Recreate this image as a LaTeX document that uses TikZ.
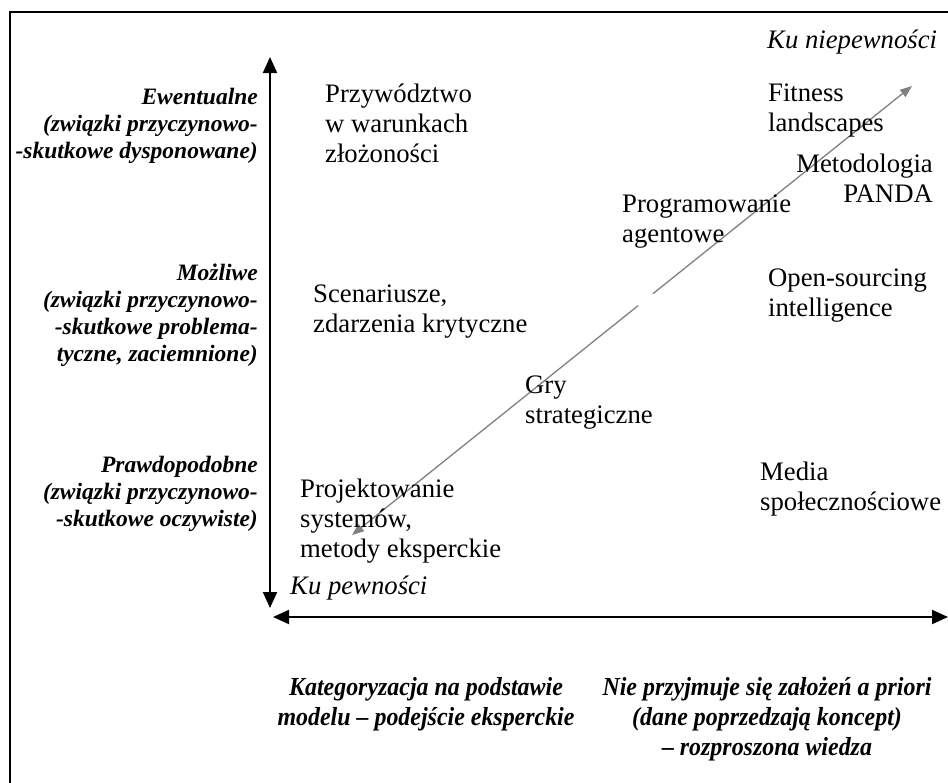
\documentclass[tikz,border=0pt]{standalone}
\usepackage{fontspec}
\setmainfont{Liberation Serif}
\newfontfamily\narrowfont[FakeStretch=0.92]{Liberation Serif}
\usetikzlibrary{arrows.meta,calc}

\tikzset{
  item/.style={inner sep=0pt, align=left, anchor=base west, font=\fontsize{26.7}{30}\selectfont},
  level/.style={inner sep=0pt, align=right, anchor=base east, font=\fontsize{23.5}{27}\selectfont\bfseries\itshape},
  basis/.style={inner sep=0pt, align=center, anchor=base, font=\narrowfont\fontsize{26}{30}\selectfont\bfseries\itshape},
  axis/.style={line width=2pt, {Triangle[length=16pt,width=14pt]}-{Triangle[length=16pt,width=14pt]}},
  diag/.style={line width=1.3pt, gray, -{Triangle[length=12pt,width=9pt]}}
}

\begin{document}
\begin{tikzpicture}[x=1pt,y=-1pt]
  \useasboundingbox (0,0) rectangle (948,782);
  %ramka
  \draw[line width=1.5pt] (10,800) -- (10,12) -- (970,12);
  %osie
  \coordinate (ytop) at (270,57);
  \coordinate (ybot) at (270,608);
  \coordinate (xleft) at (273,617);
  \coordinate (xright) at (948,617);
  \draw[axis] (ybot) -- (ytop);
  \draw[axis] (xleft) -- (xright);
  %przekatna
  \coordinate (lo) at (352,535);
  \coordinate (hi) at (912,86);
  \coordinate (gapA) at ($(lo)!0.511!(hi)$);
  \coordinate (gapB) at ($(lo)!0.5375!(hi)$);
  \draw[diag] (gapA) -- (lo);
  \draw[diag] (gapB) -- (hi);
  %poziomy (base = ostatnia linia)
  \node[level] (ewent) at (258,158) {Ewentualne\\(związki przyczynowo-\\-skutkowe dysponowane)};
  \node[level] (mozl) at (258,361) {Możliwe\\(związki przyczynowo-\\-skutkowe problema-\\tyczne, zaciemnione)};
  \node[level] (prawd) at (258,526) {Prawdopodobne\\(związki przyczynowo-\\-skutkowe oczywiste)};
  %metody
  \node[item] (lead) at (325,162) {Przywództwo\\w warunkach\\złożoności};
  \node[item] (scen) at (313,332) {Scenariusze,\\zdarzenia krytyczne};
  \node[item] (games) at (525,423) {Gry\\strategiczne};
  \node[item] (design) at (300,557) {Projektowanie\\systemów,\\metody eksperckie};
  \node[item] (fitness) at (768,131) {Fitness\\landscapes};
  \node[item, align=right, anchor=base east] (panda) at (933,202) {Metodologia\\PANDA};
  \node[item] (agent) at (622,242) {Programowanie\\agentowe};
  \node[item] (osint) at (768,316) {Open-sourcing\\intelligence};
  \node[item] (media) at (760,510) {Media\\społecznościowe};
  %kierunki
  \node[item, font=\fontsize{26.7}{30}\selectfont\itshape] (uncert) at (767,48) {Ku niepewności};
  \node[item, font=\fontsize{26.7}{30}\selectfont\itshape] (cert) at (290,594) {Ku pewności};
  %podstawa
  \node[basis] (model) at (426,725) {Kategoryzacja na podstawie\\modelu – podejście eksperckie};
  \node[basis] (dist) at (767,755) {Nie przyjmuje się założeń a priori\\(dane poprzedzają koncept)\\– rozproszona wiedza};
\end{tikzpicture}
\end{document}
